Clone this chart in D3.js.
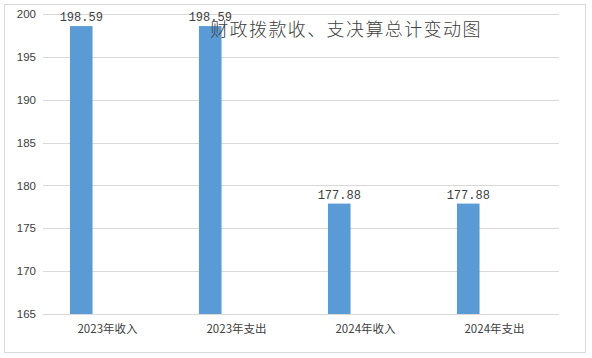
<!DOCTYPE html>
<html><head><meta charset="utf-8">
<script src="https://cdn.jsdelivr.net/npm/d3@7"></script>
<style>body{margin:0;background:#fff}svg{display:block}</style>
</head><body>
<svg id="c" width="592" height="358"></svg>
<script>
const categories = ["2023年收入", "2023年支出", "2024年收入", "2024年支出"];
const values = [198.59, 198.59, 177.88, 177.88];
const valueLabels = ["198.59", "198.59", "177.88", "177.88"];
const yTicks = [165, 170, 175, 180, 185, 190, 195, 200];
const title = "财政拨款收、支决算总计变动图";

const svg = d3.select("#c");
const W = 592, H = 358;
const m = {l: 43, r: 33, t: 14, b: 44};
const pw = W - m.l - m.r, ph = H - m.t - m.b;

svg.append("rect").attr("x", 4.5).attr("y", 4.5).attr("width", 581).attr("height", 348)
  .attr("fill", "#fff").attr("stroke", "#d9d9d9");

const g = svg.append("g").attr("transform", `translate(${m.l},${m.t})`);
const x = d3.scaleBand().domain(categories).range([0, pw]).padding(0);
const y = d3.scaleLinear().domain([165, 200]).range([ph, 0]);

// gridlines
g.selectAll("line.grid").data(yTicks).join("line")
  .attr("x1", 0).attr("x2", pw)
  .attr("y1", d => Math.round(y(d)) + 0.5).attr("y2", d => Math.round(y(d)) + 0.5)
  .attr("stroke", "#d9d9d9").attr("stroke-width", 1);

// y axis labels
const ya = g.append("g").call(d3.axisLeft(y).tickValues(yTicks).tickSize(0).tickPadding(7));
ya.select(".domain").remove();
ya.selectAll("text").attr("font-family", "Liberation Sans, Arial, sans-serif").attr("font-size", 11.5).attr("fill", "#404040");

// x axis labels
const xa = g.append("g").attr("transform", `translate(0,${ph})`).call(d3.axisBottom(x).tickSize(0).tickPadding(11));
xa.select(".domain").remove();
xa.selectAll("text").attr("font-family", "Noto Sans CJK SC, sans-serif").attr("font-size", 11.5).attr("fill", "#404040");

const off = x.bandwidth() * 0.209, bw = x.bandwidth() * 0.175;
g.selectAll("rect.bar").data(values).join("rect")
  .attr("x", (d, i) => x(categories[i]) + off)
  .attr("width", bw)
  .attr("y", d => y(d))
  .attr("height", d => ph - y(d))
  .attr("fill", "#5b9bd5");

g.selectAll("text.lbl").data(values).join("text")
  .attr("x", (d, i) => x(categories[i]) + off + bw / 2)
  .attr("y", d => y(d) - 5)
  .attr("text-anchor", "middle")
  .attr("font-family", "Liberation Mono, DejaVu Sans Mono, monospace")
  .attr("font-size", 12).attr("fill", "#404040")
  .text((d, i) => valueLabels[i]);

svg.append("text").attr("x", 346).attr("y", 36).attr("text-anchor", "middle")
  .attr("font-family", "Noto Sans CJK SC, sans-serif").attr("font-size", 18).attr("font-weight", 300)
  .attr("letter-spacing", 1.4).attr("fill", "#404040").text(title);
</script>
</body></html>
